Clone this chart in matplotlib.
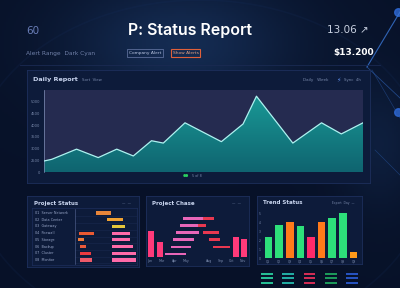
import matplotlib.pyplot as plt
import matplotlib.transforms as mtransforms
import numpy as np

#------------------------------------------------------------------------------
#                               DATA
trend_x = [0, 2.4, 10.2, 17, 22.8, 28, 33.7, 37.4, 44.2, 55.6, 62.4, 66.6, 78, 87, 93.2, 100]
trend_y = [0.94, 1.08, 1.95, 1.23, 1.95, 1.37, 2.67, 2.47, 4.2, 2.59, 4.1, 6.47, 2.47, 4.2, 3.25, 4.2]
trend_ticks = [0, 1, 2, 3, 4, 5, 6]
trend_ticklabels = ['0', '2500', '3000', '3500', '4000', '4500', '5000']

status_rows = ['01  Server Network', '02  Data Center', '03  Gateway', '04  Firewall',
               '05  Storage', '06  Backup', '07  Cluster', '08  Monitor']
status_a_start = [34, 52, 59, 7, 5, 8, 8, 8]
status_a_end = [58, 78, 81, 30, 14, 17, 26, 27]
status_a_colors = ['#e8863a', '#f0a232', '#e6c63a', '#ea5a32', '#ee7a3a', '#ea5a3a', '#ea3a40', '#ee5a6a']
status_b_start = [None, None, None, 60, 60, 60, 60, 60]
status_b_end = [None, None, None, 88, 89, 94, 99, 99]

chase_months = ['Jan', 'Mar', 'Apr', 'May', 'Aug', 'Sep', 'Oct', 'Nov']
chase_month_pos = [0.3, 1.7, 3.3, 4.6, 7.4, 8.8, 10.1, 11.4]
chase_col_x = [0.46, 1.5, 10.55, 11.55]
chase_col_h = [5.7, 3.3, 4.4, 3.85]
chase_row_y = [0.67, 2.15, 3.8, 5.3, 6.9, 8.4]
chase_pink_start = [2.1, 2.9, 3.1, 3.5, 3.9, 4.3]
chase_pink_end = [4.6, 5.2, 5.6, 6.2, 6.0, 6.6]
chase_red_start = [4.6, 7.8, 7.4, 6.6, 6.0, 6.6]
chase_red_end = [4.6, 9.9, 8.7, 8.6, 7.0, 8.0]

bars_labels = ['Q1', 'Q2', 'Q3', 'Q4', 'Q5', 'Q6', 'Q7', 'Q8', 'Q9']
bars_values = [2.4, 3.7, 4.1, 3.6, 2.4, 4.0, 4.5, 5.1, 0.67]
bars_colors = ['#2de07a', '#2de07a', '#ff7a1a', '#2de07a', '#ff2a6a', '#ff7a1a', '#2de07a', '#2de07a', '#ff9a1a']

legend_colors = ['#2ad0a0', '#26bcb0', '#e8305a', '#1fa860', '#2a5ad0']

#------------------------------------------------------------------------------
#                               FIGURE
W, H = 400, 288
BG = '#08142e'
PANEL = '#0d1b3a'
EDGE = '#1d2f5c'
TXT = '#c8d4ee'
DIM = '#7888aa'

fig = plt.figure(figsize=(4, 2.88), dpi=100, facecolor=BG)


def px_axes(x0, y0, x1, y1, **kw):
    return fig.add_axes([x0 / W, 1 - y1 / H, (x1 - x0) / W, (y1 - y0) / H], **kw)


def panel(x0, y0, x1, y1):
    ax = px_axes(x0, y0, x1, y1)
    ax.set_facecolor(PANEL)
    ax.set_xticks([])
    ax.set_yticks([])
    for s in ax.spines.values():
        s.set_color(EDGE)
        s.set_linewidth(0.6)
    return ax


# background glow
bg = px_axes(0, 0, W, H)
gx, gy = np.meshgrid(np.linspace(0, 1, 200), np.linspace(0, 1, 144))
glow = np.exp(-((gx - 0.45) ** 2 / 0.08 + (gy - 0.15) ** 2 / 0.05))
glow += 0.5 * np.exp(-((gx - 0.95) ** 2 / 0.01 + (gy - 0.5) ** 2 / 0.05))
base = np.array([0.03, 0.07, 0.16])
lift = np.array([0.05, 0.10, 0.16])
bg.imshow(base + glow[..., None] * lift, extent=[0, W, H, 0], aspect='auto')
t = np.linspace(0, 2 * np.pi, 300)
bg.plot(200 + 230 * np.cos(t), 170 + 170 * np.sin(t), color='#1a3468', lw=1.2, alpha=0.15)
bg.plot([367, 400], [67, 12], color='#3a78d8', lw=0.8, alpha=0.8)
bg.plot([367, 400], [67, 98], color='#2a5aa8', lw=0.6, alpha=0.7)
bg.plot([372, 400], [70, 118], color='#2a5aa8', lw=0.5, alpha=0.5)
bg.plot([375, 400], [150, 175], color='#2a5aa8', lw=0.5, alpha=0.5)
bg.scatter([398, 398], [12, 112], s=30, color='#2f6ad8', alpha=0.8)
bg.plot([20, 380], [65, 65], color='#1a2a52', lw=0.6)
bg.set_xlim(0, W)
bg.set_ylim(H, 0)
bg.axis('off')

# header
fig.text(26 / W, 1 - 31 / H, '60', color='#6a7eb8', fontsize=7.5, va='center', family='DejaVu Sans')
fig.text(190 / W, 1 - 31 / H, 'P: Status Report', color='white', fontsize=11.5, va='center',
         ha='center', family='Inter', weight='semibold')
fig.text(327 / W, 1 - 30 / H, '13.06 \u2197', color='#c8d0e0', fontsize=7.5, va='center', family='DejaVu Sans')
fig.text(26 / W, 1 - 53 / H, 'Alert Range  Dark Cyan', color='#7080a8', fontsize=4.2, va='center')
fig.text(333 / W, 1 - 53 / H, '$13.200', color='white', fontsize=6.5, va='center', weight='bold')
fig.text(129 / W, 1 - 53 / H, 'Company Alert', color='#b8c4e0', fontsize=3.2, va='center',
         bbox=dict(boxstyle='square,pad=0.35', fc='none', ec='#8090c0', lw=0.4))
fig.text(173 / W, 1 - 53 / H, 'Show Alerts', color='#e8a080', fontsize=3.2, va='center',
         bbox=dict(boxstyle='square,pad=0.35', fc='none', ec='#e0603a', lw=0.8))

#------------------------------------------------------------------------------
#                               MAIN AREA CHART
panel(27, 70, 370, 183)
fig.text(33 / W, 1 - 80 / H, 'Daily Report', color=TXT, fontsize=4.6, weight='bold', va='center')
fig.text(82 / W, 1 - 80 / H, 'Sort  View', color=DIM, fontsize=2.8, va='center')
fig.text(303 / W, 1 - 80 / H, 'Daily   Week', color=DIM, fontsize=3.0, va='center')
fig.text(336 / W, 1 - 80 / H, '\u26a1', color='#5a8ae8', fontsize=4.5, va='center')
fig.text(344 / W, 1 - 80 / H, 'Sync  4h', color=DIM, fontsize=2.8, va='center')

ax = px_axes(44, 90, 363, 172)
ax.set_facecolor('#252b50')
poly = ax.fill_between(trend_x, trend_y, 0, color='#148a8a', lw=0)
grad = np.linspace(1, 0, 100)[:, None]
img = ax.imshow(grad, extent=[0, 100, 0, 7], aspect='auto', origin='upper',
                cmap=plt.matplotlib.colors.LinearSegmentedColormap.from_list('tg', ['#0f6470', '#1a9c98']),
                zorder=2)
img.set_clip_path(poly.get_paths()[0], transform=ax.transData)
poly.set_visible(False)
ax.plot(trend_x, trend_y, color='#aef2f0', lw=0.9, zorder=3)
ax.set_xlim(0, 100)
ax.set_ylim(0, 7)
ax.set_yticks(trend_ticks)
ax.set_yticklabels(trend_ticklabels, fontsize=2.6, color=DIM)
ax.tick_params(axis='y', length=0, pad=3)
ax.set_xticks([])
for s in ['top', 'right', 'bottom']:
    ax.spines[s].set_visible(False)
ax.spines['left'].set_color('#8090b8')
ax.spines['left'].set_linewidth(0.5)
fig.text(183 / W, 1 - 176 / H, '\u25cf\u25cf', color='#2ad060', fontsize=2.6, va='center')
fig.text(192 / W, 1 - 176 / H, '5 of 8', color=DIM, fontsize=2.4, va='center')

#------------------------------------------------------------------------------
#                               PROJECT STATUS (gantt)
panel(27, 196, 139, 267)
fig.text(34 / W, 1 - 203 / H, 'Project Status', color=TXT, fontsize=4.0, weight='bold', va='center')
fig.text(122 / W, 1 - 203 / H, '\u2014  \u2014', color=DIM, fontsize=2.4, va='center')
box = px_axes(32, 208, 137, 265)
box.set_facecolor('none')
box.set_xticks([])
box.set_yticks([])
for s in box.spines.values():
    s.set_color(EDGE)
    s.set_linewidth(0.5)

gx_ax = px_axes(75, 209, 137, 264)
gx_ax.set_facecolor('none')
n = len(status_rows)
rows = np.arange(n)
gx_ax.barh(rows, np.array(status_a_end) - np.array(status_a_start), left=status_a_start,
           height=0.48, color=status_a_colors)
b_idx = [i for i in rows if status_b_start[i] is not None]
gx_ax.barh([rows[i] for i in b_idx], [status_b_end[i] - status_b_start[i] for i in b_idx],
           left=[status_b_start[i] for i in b_idx], height=0.48, color='#ff6aa8')
for i in rows:
    gx_ax.axhline(i + 0.5, color='#18284e', lw=0.4)
trans = mtransforms.blended_transform_factory(fig.transFigure, gx_ax.transData)
for i, lab in enumerate(status_rows):
    gx_ax.text(35 / W, i, lab, transform=trans, fontsize=2.4, color='#98a6c8', va='center')
gx_ax.set_xlim(0, 100)
gx_ax.set_ylim(n - 0.4, -0.6)
gx_ax.set_xticks([])
gx_ax.set_yticks([])
for s in ['top', 'right', 'bottom']:
    gx_ax.spines[s].set_visible(False)
gx_ax.spines['left'].set_color('#5a6a98')
gx_ax.spines['left'].set_linewidth(0.4)

#------------------------------------------------------------------------------
#                               PROJECT CHASE
panel(146, 196, 249, 266)
fig.text(152 / W, 1 - 203 / H, 'Project Chase', color=TXT, fontsize=4.0, weight='bold', va='center')
fig.text(232 / W, 1 - 203 / H, '\u2014  \u2014', color=DIM, fontsize=2.4, va='center')
cx = px_axes(147, 211, 248, 257)
cx.set_facecolor('none')
cx.bar(chase_col_x, chase_col_h, width=0.7, color='#ff3a7a')
cx.barh(chase_row_y, np.array(chase_pink_end) - np.array(chase_pink_start), left=chase_pink_start,
        height=0.6, color='#e866b8')
cx.barh(chase_row_y, np.array(chase_red_end) - np.array(chase_red_start), left=chase_red_start,
        height=0.6, color='#e83850')
cx.set_xlim(0, 12)
cx.set_ylim(0, 10)
cx.set_xticks(chase_month_pos)
cx.set_xticklabels(chase_months, fontsize=2.3, color=DIM)
cx.tick_params(length=0, pad=1.5)
cx.set_yticks([])
for s in cx.spines.values():
    s.set_visible(False)

#------------------------------------------------------------------------------
#                               TREND STATUS
panel(257, 196, 362, 264)
fig.text(263 / W, 1 - 203 / H, 'Trend Status', color=TXT, fontsize=4.0, weight='bold', va='center')
fig.text(332 / W, 1 - 203 / H, 'Export  Day  \u2014', color=DIM, fontsize=2.2, va='center')
tx = px_axes(262, 210, 360, 258)
tx.set_facecolor('none')
tx.bar(np.arange(len(bars_values)), bars_values, width=0.72, color=bars_colors)
tx.set_xlim(-0.6, len(bars_values) - 0.4)
tx.set_ylim(0, 5.4)
tx.set_yticks([0, 1, 2, 3, 4, 5])
tx.set_yticklabels(['0', '1', '2', '3', '4', '5'], fontsize=2.2, color=DIM)
tx.set_xticks(np.arange(len(bars_labels)))
tx.set_xticklabels(bars_labels, fontsize=2.2, color=DIM)
tx.tick_params(length=0, pad=1)
for s in tx.spines.values():
    s.set_visible(False)

# legend strips under trend panel
lx = px_axes(258, 270, 362, 288)
lx.set_facecolor('none')
for j, c in enumerate(legend_colors):
    for k in range(3):
        lx.hlines(k, j * 1.0, j * 1.0 + 0.55, color=c, lw=1.3)
lx.set_xlim(-0.15, 4.75)
lx.set_ylim(3.2, -0.8)
lx.axis('off')

fig.savefig('out.png', dpi=100, facecolor=BG)
